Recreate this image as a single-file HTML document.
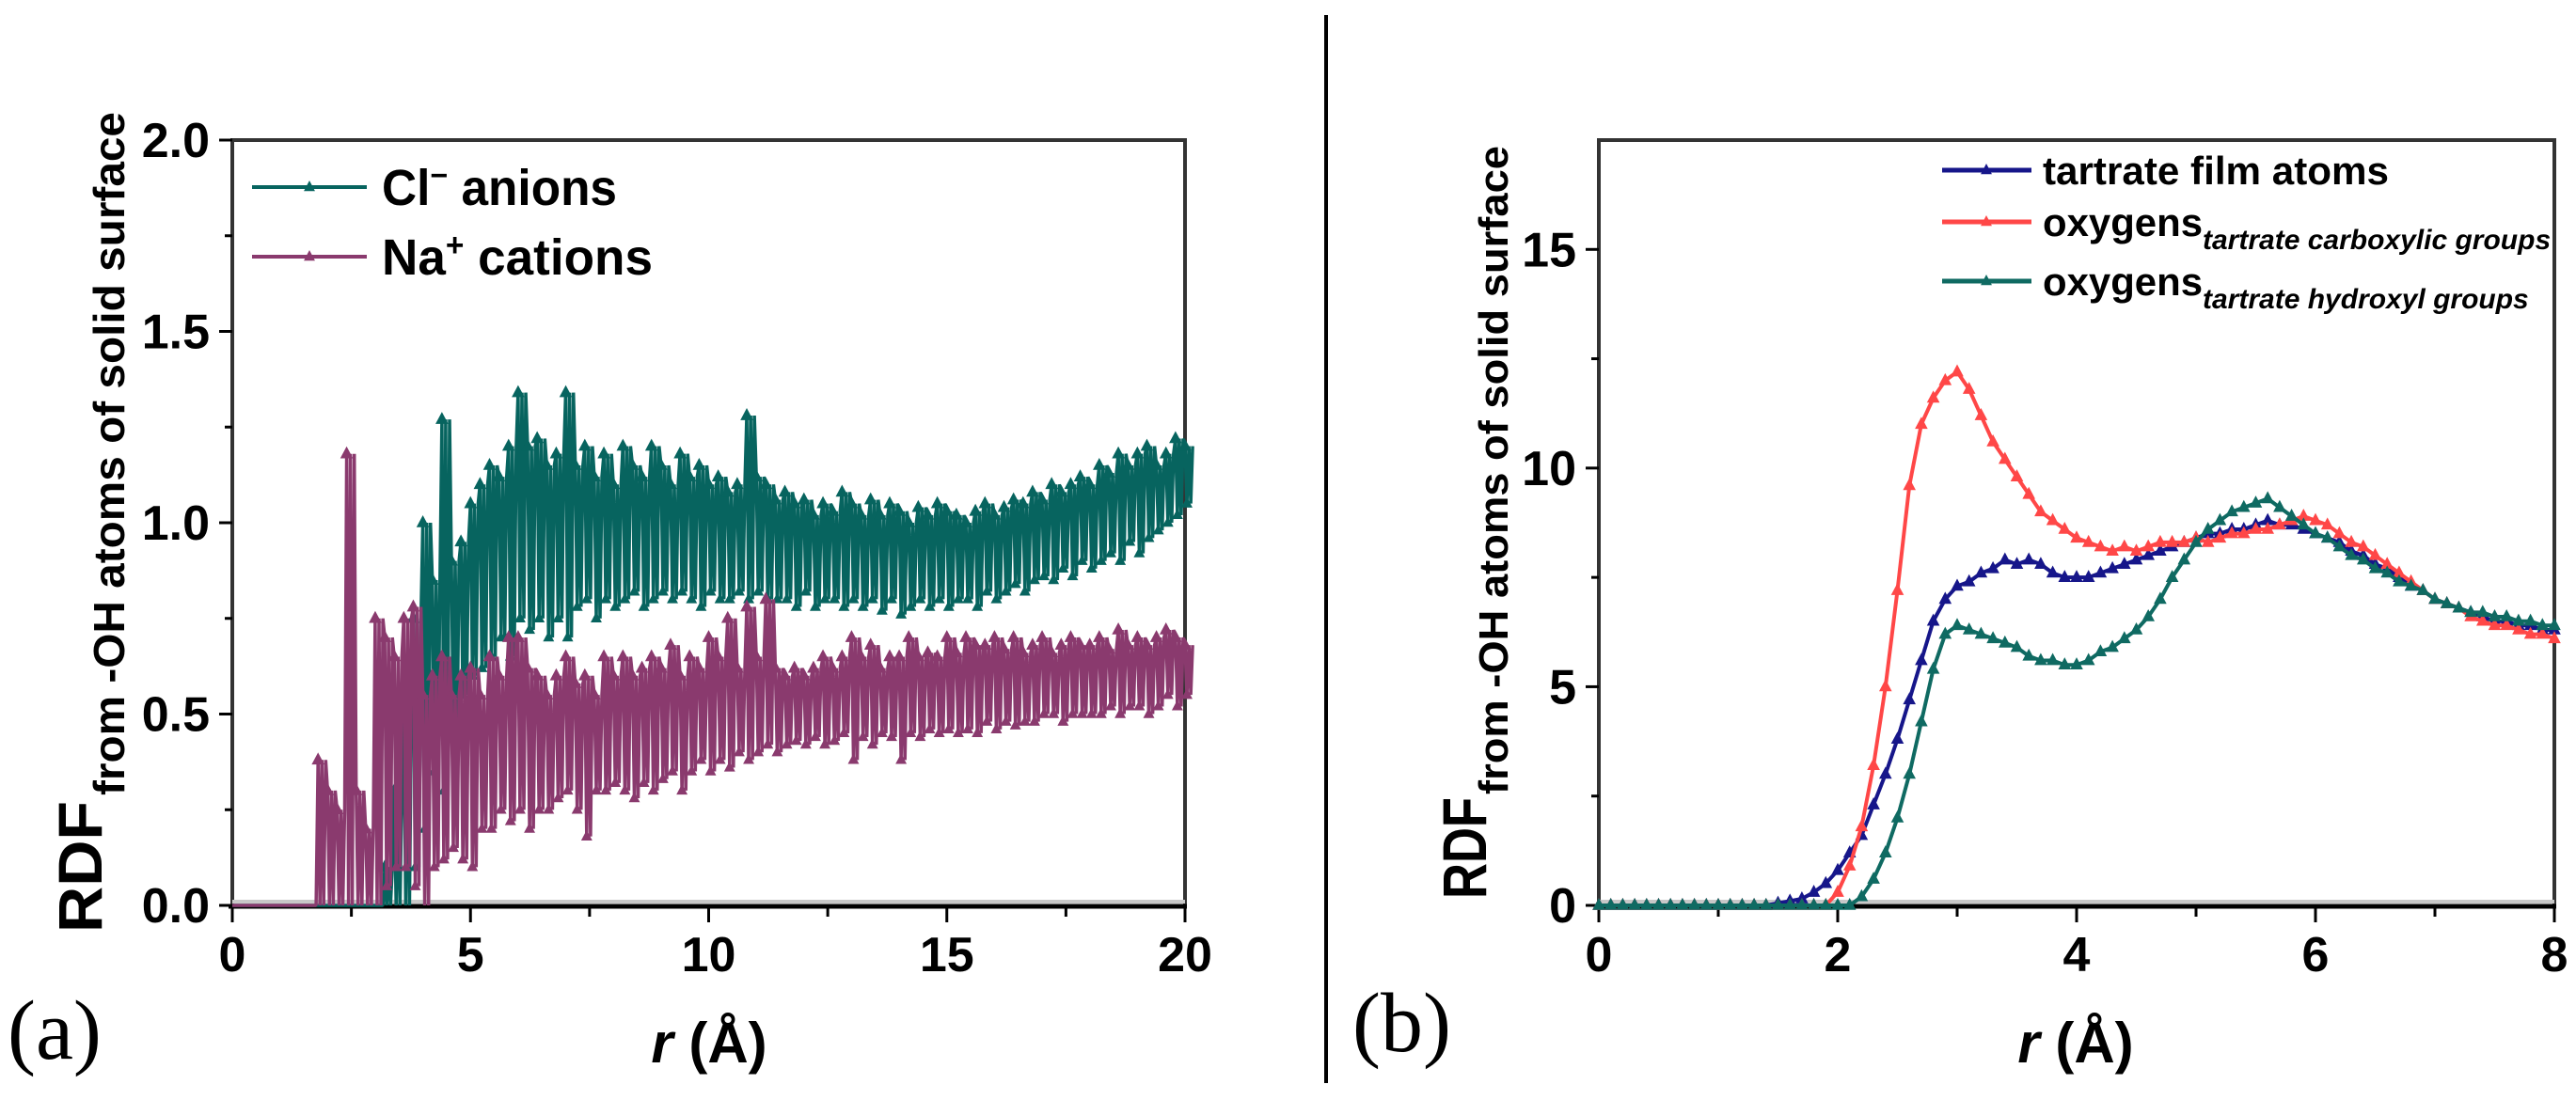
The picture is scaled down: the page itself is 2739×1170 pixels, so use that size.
<!DOCTYPE html>
<html><head><meta charset="utf-8"><style>
html,body{margin:0;padding:0;background:#fff;}
svg{display:block;}
text{font-family:"Liberation Sans Narrow","Liberation Sans",sans-serif;}
text.serif{font-family:"Liberation Serif",serif;}
text.sans{font-family:"Liberation Sans",sans-serif;}
</style></head><body>
<svg id="fig" width="2739" height="1170" viewBox="0 0 2739 1170" xmlns="http://www.w3.org/2000/svg">
<line x1="1410" y1="16" x2="1410" y2="1152" stroke="#000" stroke-width="4"/>
<g id="pa"></g>
<g id="pb"></g>
</svg>
<script>
// ---------- Panel (a) data: per 0.2 Å bin, upper and lower envelope of the noisy RDF ----------
const aStart = 0;
const aStep = 0.2;
const clHi = [0,0,0,0,0,0,0,0,0,0,0,0,0,0,0,0,0.1,0.3,0.5,0.75,1.0,0.85,1.27,0.9,0.95,1.05,1.1,1.15,1.12,1.2,1.34,1.2,1.22,1.15,1.18,1.34,1.15,1.2,1.12,1.18,1.1,1.2,1.15,1.12,1.2,1.15,1.1,1.18,1.12,1.15,1.1,1.12,1.08,1.1,1.28,1.12,1.1,1.06,1.08,1.05,1.06,1.02,1.05,1.03,1.08,1.05,1.02,1.06,1.02,1.05,1.03,1.0,1.04,1.02,1.05,1.03,1.02,1.0,1.03,1.05,1.02,1.04,1.06,1.05,1.08,1.06,1.1,1.08,1.1,1.12,1.1,1.15,1.13,1.18,1.15,1.18,1.2,1.15,1.18,1.22,1.2];
const clLo = [0,0,0,0,0,0,0,0,0,0,0,0,0,0,0,0,0,0,0,0.1,0.2,0.35,0.3,0.45,0.55,0.6,0.62,0.65,0.7,0.65,0.75,0.72,0.75,0.7,0.75,0.7,0.78,0.8,0.75,0.8,0.78,0.8,0.82,0.78,0.8,0.82,0.8,0.82,0.8,0.78,0.82,0.8,0.8,0.82,0.8,0.82,0.8,0.8,0.8,0.78,0.82,0.78,0.8,0.8,0.78,0.8,0.78,0.8,0.77,0.8,0.76,0.78,0.8,0.78,0.8,0.78,0.8,0.8,0.78,0.82,0.8,0.82,0.84,0.82,0.85,0.86,0.85,0.88,0.86,0.9,0.88,0.9,0.92,0.9,0.95,0.92,0.96,0.98,1.0,1.02,1.05];
const naHi = [0,0,0,0,0,0,0,0,0,0.38,0.3,0.25,1.18,0.3,0.2,0.75,0.7,0.65,0.75,0.78,0.55,0.6,0.65,0.55,0.6,0.62,0.55,0.65,0.6,0.7,0.7,0.62,0.6,0.55,0.6,0.65,0.58,0.6,0.55,0.65,0.6,0.65,0.6,0.62,0.65,0.62,0.68,0.6,0.65,0.62,0.7,0.65,0.75,0.62,0.78,0.65,0.8,0.62,0.6,0.62,0.6,0.62,0.65,0.62,0.65,0.7,0.65,0.68,0.62,0.65,0.65,0.7,0.65,0.66,0.65,0.7,0.66,0.7,0.68,0.68,0.7,0.67,0.7,0.66,0.68,0.7,0.66,0.68,0.7,0.68,0.68,0.7,0.67,0.72,0.68,0.7,0.68,0.7,0.72,0.7,0.68];
const naLo = [0,0,0,0,0,0,0,0,0,0,0,0,0,0,0,0,0.05,0.1,0.1,0.05,0,0.1,0.12,0.15,0.12,0.1,0.2,0.2,0.25,0.22,0.25,0.2,0.25,0.25,0.28,0.3,0.25,0.18,0.3,0.3,0.32,0.3,0.28,0.32,0.3,0.33,0.35,0.3,0.35,0.38,0.35,0.38,0.36,0.4,0.38,0.4,0.42,0.4,0.42,0.43,0.42,0.44,0.42,0.43,0.45,0.38,0.44,0.42,0.45,0.44,0.38,0.45,0.44,0.46,0.45,0.46,0.45,0.46,0.45,0.48,0.46,0.48,0.47,0.48,0.48,0.5,0.5,0.48,0.5,0.5,0.5,0.5,0.52,0.5,0.52,0.52,0.5,0.52,0.55,0.52,0.55];
const aXTicks = [0,5,10,15,20];
const aYTicks = [0,0.5,1.0,1.5,2.0];
const aYLabels = ["0.0","0.5","1.0","1.5","2.0"];

// ---------- Panel (b) data: RDF every 0.1 Å from 0 to 8 ----------
const bStart = 0;
const bStep = 0.1;
const filmAtoms = [0,0,0,0,0,0,0,0,0,0,0,0,0,0,0,0.05,0.1,0.15,0.3,0.5,0.8,1.2,1.6,2.3,3.0,3.8,4.7,5.6,6.5,7.0,7.3,7.4,7.6,7.7,7.9,7.8,7.9,7.8,7.6,7.5,7.5,7.5,7.6,7.7,7.8,7.9,8.0,8.1,8.2,8.3,8.4,8.5,8.5,8.6,8.6,8.7,8.8,8.7,8.7,8.6,8.5,8.4,8.3,8.1,8.0,7.8,7.7,7.5,7.3,7.2,7.0,6.9,6.8,6.7,6.6,6.5,6.5,6.4,6.4,6.3,6.3];
const carboxylO = [0,0,0,0,0,0,0,0,0,0,0,0,0,0,0,0,0,0,0,0,0.3,0.9,1.8,3.2,5.0,7.2,9.6,11.0,11.6,12.0,12.2,11.8,11.2,10.6,10.2,9.8,9.4,9.0,8.8,8.6,8.4,8.3,8.2,8.1,8.2,8.1,8.2,8.3,8.3,8.3,8.4,8.3,8.4,8.5,8.5,8.6,8.6,8.7,8.8,8.9,8.8,8.7,8.5,8.3,8.2,8.0,7.8,7.6,7.4,7.2,7.0,6.9,6.8,6.6,6.5,6.4,6.4,6.3,6.2,6.2,6.1];
const hydroxylO = [0,0,0,0,0,0,0,0,0,0,0,0,0,0,0,0,0,0,0,0,0,0,0.2,0.6,1.2,2.0,3.0,4.2,5.4,6.2,6.4,6.3,6.2,6.1,6.0,5.9,5.7,5.6,5.6,5.5,5.5,5.6,5.8,5.9,6.1,6.3,6.6,7.0,7.5,7.9,8.3,8.6,8.8,9.0,9.1,9.2,9.3,9.1,8.9,8.7,8.5,8.4,8.2,8.0,7.9,7.7,7.6,7.4,7.3,7.2,7.0,6.9,6.8,6.7,6.7,6.6,6.6,6.5,6.5,6.4,6.4];
const bXTicks = [0,2,4,6,8];
const bYTicks = [0,5,10,15];

const NS = "http://www.w3.org/2000/svg";
function mk(parent, tag, attrs, txt){
  const e = document.createElementNS(NS, tag);
  for (const k in attrs) e.setAttribute(k, attrs[k]);
  if (txt !== undefined) e.textContent = txt;
  parent.appendChild(e);
  return e;
}
function tri(x, y, s){ return `M${x},${y-s} L${x+s*0.85},${y+s*0.6} L${x-s*0.85},${y+s*0.6}Z`; }

function frame(g, L, R, T, B, xTicks, xMinor, yTicks, yMinor, sx, sy, yLab){
  const f = mk(g, 'path', {d:`M${L},${B} L${L},${T} L${R},${T} L${R},${B}`, fill:'none', stroke:'#333', 'stroke-width':4});
  
  
  const zl = mk(g, 'line', {x1:L, x2:R, y1:B-4, y2:B-4, stroke:'#c8c8c8', 'stroke-width':4});
  
  
  const xa = mk(g, 'line', {x1:L-4, x2:R+2, y1:B+1, y2:B+1, stroke:'#000', 'stroke-width':5});
  
  
  xMinor.forEach(v => {
    const t = mk(g, 'line', {x1:sx(v), x2:sx(v), y1:B, y2:B+12, stroke:'#000', 'stroke-width':3});
    
    
  });
  xTicks.forEach(v => {
    const t = mk(g, 'line', {x1:sx(v), x2:sx(v), y1:B, y2:B+18, stroke:'#000', 'stroke-width':3});
    
    
    const l = mk(g, 'text', {x:sx(v), y:B+70, 'text-anchor':'middle', 'font-size':52, 'font-weight':'bold'}, String(v));
    
    
  });
  yMinor.forEach(v => {
    const t = mk(g, 'line', {x1:L-8, x2:L, y1:sy(v), y2:sy(v), stroke:'#000', 'stroke-width':3});
    
    
  });
  yTicks.forEach((v,i) => {
    const t = mk(g, 'line', {x1:L-14, x2:L, y1:sy(v), y2:sy(v), stroke:'#000', 'stroke-width':3});
    
    
    const l = mk(g, 'text', {x:L-24, y:sy(v)+18, 'text-anchor':'end', 'font-size':52, 'font-weight':'bold'}, yLab[i]);
    
    
  });
}

// ---------------- Panel (a) ----------------
(function(){
  const g = document.getElementById('pa');
  const L=247, R=1260, T=149, B=963;
  const sx = v => L + (v-0)/(20-0)*(R-L);
  const sy = v => B - v/2.0*(B-T);
  frame(g, L, R, T, B, aXTicks, [2.5,7.5,12.5,17.5], aYTicks, [0.25,0.75,1.25,1.75], sx, sy, aYLabels);
  function band(hi, lo, color, name){
    const sub = 5; // zig-zag strokes per bin (rendering density only)
    let pts = [];
    for (let i=0;i<hi.length;i++){
      const r = aStart + i*aStep;
      for (let k=0;k<sub;k++){
        const rr = r + k*aStep/sub;
        const v = (k%2===0) ? hi[i] : lo[i];
        pts.push(`${sx(rr).toFixed(1)},${sy(v).toFixed(1)}`);
      }
    }
    const p = mk(g, 'polyline', {points:pts.join(' '), fill:'none', stroke:color, 'stroke-width':3.5, 'stroke-linejoin':'bevel'});
    
    
    let d = '';
    for (let i=0;i<hi.length;i++){
      const r = aStart + i*aStep;
      if (hi[i] > 0) d += tri(sx(r), sy(hi[i]), 8);
      if (lo[i] > 0) d += tri(sx(r+aStep/5), sy(lo[i]), 7);
    }
    const m = mk(g, 'path', {d:d, fill:color});
    
    
  }
  band(clHi, clLo, '#07645f', 'cl-anions-series');
  band(naHi, naLo, '#8a3a6e', 'na-cations-series');
  const lg = mk(g, 'g', {});
  
  
  const l1 = mk(lg, 'line', {x1:268, x2:390, y1:199, y2:199, stroke:'#07645f', 'stroke-width':4});
  
  
  mk(lg, 'path', {d:tri(329,199,7), fill:'#07645f'});
  const t1 = mk(lg, 'text', {x:406, y:218, 'font-size':54, 'font-weight':'bold', textLength:250, lengthAdjust:'spacingAndGlyphs'});
  
  
  t1.innerHTML = 'Cl<tspan dy="-20" font-size="34">−</tspan><tspan dy="20"> anions</tspan>';
  const l2 = mk(lg, 'line', {x1:268, x2:390, y1:273, y2:273, stroke:'#8a3a6e', 'stroke-width':4});
  
  
  mk(lg, 'path', {d:tri(329,273,7), fill:'#8a3a6e'});
  const t2 = mk(lg, 'text', {x:406, y:292, 'font-size':54, 'font-weight':'bold', textLength:288, lengthAdjust:'spacingAndGlyphs'});
  
  
  t2.innerHTML = 'Na<tspan dy="-20" font-size="34">+</tspan><tspan dy="20"> cations</tspan>';
  const yt = mk(g, 'text', {class:'sans', transform:'translate(108,992) rotate(-90)', 'font-size':66, 'font-weight':'bold', textLength:140, lengthAdjust:'spacingAndGlyphs'}, 'RDF');
  
  
  const ys = mk(g, 'text', {class:'sans', transform:'translate(132,846) rotate(-90)', 'font-size':46, 'font-weight':'bold', textLength:727, lengthAdjust:'spacingAndGlyphs'}, 'from -OH atoms of solid surface');
  
  
  const xt = mk(g, 'text', {x:754, y:1130, 'text-anchor':'middle', 'font-size':60, 'font-weight':'bold'});
  
  
  xt.innerHTML = '<tspan font-style="italic">r</tspan> (Å)';
  const pl = mk(g, 'text', {class:'serif', x:8, y:1126, 'font-size':90}, '(a)');
  
  
})();

// ---------------- Panel (b) ----------------
(function(){
  const g = document.getElementById('pb');
  const L=1700, R=2716, T=149, B=963;
  const sx = v => L + (v-0)/(8-0)*(R-L);
  const sy = v => B - v/17.5*(B-T);
  frame(g, L, R, T, B, bXTicks, [1,3,5,7], bYTicks, [2.5,7.5,12.5], sx, sy, bYTicks.map(String));
  function line(vals, color, name){
    const pts = vals.map((v,i) => `${sx(bStart+i*bStep).toFixed(1)},${sy(v).toFixed(1)}`);
    const p = mk(g, 'polyline', {points:pts.join(' '), fill:'none', stroke:color, 'stroke-width':4});
    
    
    let d = '';
    vals.forEach((v,i) => { d += tri(sx(bStart+i*bStep), sy(v), 8); });
    const m = mk(g, 'path', {d:d, fill:color});
    
    
  }
  line(filmAtoms, '#16168a', 'tartrate-film-series');
  line(carboxylO, '#ff4747', 'carboxylic-oxygens-series');
  line(hydroxylO, '#0f6a62', 'hydroxyl-oxygens-series');
  const lg = mk(g, 'g', {});
  
  
  const items = [
    ['#16168a', 181, 'tartrate film atoms', '', 368, 'legend-entry-film'],
    ['#ff4747', 236, 'oxygens', 'tartrate carboxylic groups', 0, 'legend-entry-carboxylic'],
    ['#0f6a62', 299, 'oxygens', 'tartrate hydroxyl groups', 0, 'legend-entry-hydroxyl']
  ];
  items.forEach(it => {
    const s = mk(lg, 'line', {x1:2065, x2:2160, y1:it[1], y2:it[1], stroke:it[0], 'stroke-width':5});
    
    
    mk(lg, 'path', {d:tri(2112, it[1], 7), fill:it[0]});
    const t = mk(lg, 'text', {x:2172, y:it[1]+15, 'font-size':42, 'font-weight':'bold'});
    
    
    if (it[3]) {
      t.innerHTML = `<tspan textLength="170" lengthAdjust="spacingAndGlyphs">${it[2]}</tspan><tspan dy="14" font-size="30" font-style="italic">${it[3]}</tspan>`;
    } else {
      t.setAttribute('textLength', it[4]);
      t.setAttribute('lengthAdjust', 'spacingAndGlyphs');
      t.textContent = it[2];
    }
  });
  const yt = mk(g, 'text', {class:'sans', transform:'translate(1580,956) rotate(-90)', 'font-size':66, 'font-weight':'bold', textLength:108, lengthAdjust:'spacingAndGlyphs'}, 'RDF');
  
  
  const ys = mk(g, 'text', {class:'sans', transform:'translate(1603,845) rotate(-90)', 'font-size':44, 'font-weight':'bold', textLength:690, lengthAdjust:'spacingAndGlyphs'}, 'from -OH atoms of solid surface');
  
  
  const xt = mk(g, 'text', {x:2207, y:1130, 'text-anchor':'middle', 'font-size':60, 'font-weight':'bold'});
  
  
  xt.innerHTML = '<tspan font-style="italic">r</tspan> (Å)';
  const pl = mk(g, 'text', {class:'serif', x:1438, y:1118, 'font-size':90}, '(b)');
  
  
})();
</script>
</body></html>
